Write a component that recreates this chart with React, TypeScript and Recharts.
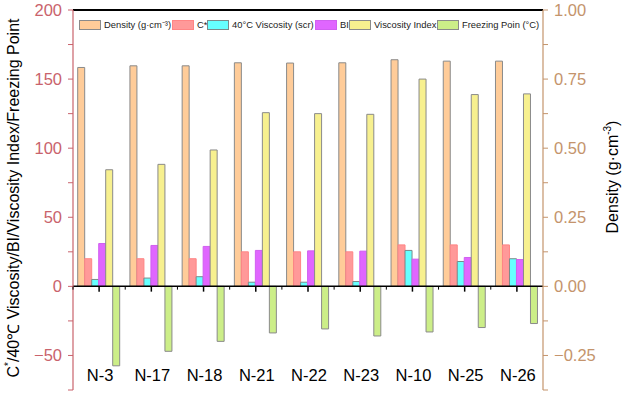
import { BarChart, Bar, XAxis, YAxis, ReferenceLine } from 'recharts'

const categories = ['N-3', 'N-17', 'N-18', 'N-21', 'N-22', 'N-23', 'N-10', 'N-25', 'N-26']
const density = [0.792, 0.798, 0.798, 0.809, 0.808, 0.809, 0.82, 0.815, 0.815]
const cStar = [20, 20, 20, 25, 25, 25, 30, 30, 30]
const viscosity40 = [5, 6, 7, 3, 3, 3.5, 26, 18, 20]
const bi = [31, 29.6, 28.9, 26, 25.7, 25.5, 19.7, 20.9, 19.4]
const viscosityIndex = [84.4, 88.3, 98.7, 125.7, 125, 124.5, 150, 138.8, 139.3]
const freezingPoint = [-57.5, -47, -39.8, -33.7, -30.8, -35.9, -33, -29.8, -26.9]

const leftTicks = [-75, -50, -25, 0, 25, 50, 75, 100, 125, 150, 175, 200]
const rightTicks = [-0.375, -0.25, -0.125, 0, 0.125, 0.25, 0.375, 0.5, 0.625, 0.75, 0.875, 1]

const SERIES = [
  { key: 'density', label: 'Density (g·cm⁻³)', fill: '#FFCC99', stroke: '#8a8a8a', axis: 'right', slot: 93 },
  { key: 'cStar', label: 'C*', fill: '#FF9999', stroke: '#FF8585', axis: 'left', slot: 35 },
  { key: 'viscosity40', label: '40°C Viscosity (scr)', fill: '#66FFFF', stroke: '#7a8a8a', axis: 'left', slot: 108 },
  { key: 'bi', label: 'BI', fill: '#E066FF', stroke: '#D060F0', axis: 'left', slot: 34 },
  { key: 'viscosityIndex', label: 'Viscosity Index', fill: '#F7F08F', stroke: '#8a8a8a', axis: 'left', slot: 88 },
  { key: 'freezingPoint', label: 'Freezing Poin (°C)', fill: '#CCEE88', stroke: '#8a8a8a', axis: 'left', slot: 105 },
]

const data = categories.map((c, i) => ({
  name: c,
  density: density[i],
  cStar: cStar[i],
  viscosity40: viscosity40[i],
  bi: bi[i],
  viscosityIndex: viscosityIndex[i],
  freezingPoint: freezingPoint[i],
}))

const W = 630
const H = 405
const MARGIN = { top: 10, right: 37, bottom: 14, left: 23 }
const PLOT_LEFT = 73
const PLOT_RIGHT = 543
const PLOT_TOP = 11
const PLOT_BOTTOM = H - 15
const ZERO_Y = PLOT_TOP + ((PLOT_BOTTOM - PLOT_TOP) * 200) / 275
const BAND = (PLOT_RIGHT - PLOT_LEFT) / categories.length

const LEFT_COLOR = '#C9636C'
const RIGHT_COLOR = '#C4946C'
const FONT = '"Liberation Sans", Arial, sans-serif'

function fmtMinus(s: string) {
  return s.replace('-', '−')
}

function LeftTick(props: any) {
  const { x, y, payload } = props
  if (payload.value % 50 !== 0) return null
  return (
    <text x={x} y={y} dy={6} textAnchor="end" fontSize={16.5} fill={LEFT_COLOR} fontFamily={FONT}>
      {fmtMinus(String(payload.value))}
    </text>
  )
}

function RightTick(props: any) {
  const { x, y, payload } = props
  if (Math.abs((payload.value * 4) % 1) > 1e-9) return null
  return (
    <text x={x} y={y} dy={6} textAnchor="start" fontSize={16.5} fill={RIGHT_COLOR} fontFamily={FONT}>
      {fmtMinus(payload.value.toFixed(2))}
    </text>
  )
}

function CategoryTick(props: any) {
  const { x, payload } = props
  return (
    <g>
      <line x1={x} x2={x} y1={ZERO_Y} y2={ZERO_Y + 5} stroke="#000" strokeWidth={1.5} />
      <line x1={x - BAND / 2} x2={x - BAND / 2} y1={ZERO_Y} y2={ZERO_Y + 3} stroke="#000" strokeWidth={1} />
      <text x={x + 1} y={381} textAnchor="middle" fontSize={16.5} fill="#000" fontFamily={FONT}>
        {payload.value}
      </text>
    </g>
  )
}

function LeftLabel() {
  return (
    <text
      x={15}
      y={198}
      transform="rotate(-90 15 198)"
      textAnchor="middle"
      dominantBaseline="middle"
      fontSize={16}
      fill="#000"
      fontFamily={FONT}
    >
      C<tspan dy={-6} fontSize={10}>*</tspan>
      <tspan dy={6}>/40℃ Viscosity/BI/Viscosity Index/Freezing Point</tspan>
    </text>
  )
}

function RightLabel() {
  return (
    <text
      x={614}
      y={177}
      transform="rotate(-90 614 177)"
      textAnchor="middle"
      dominantBaseline="middle"
      fontSize={16}
      fill="#000"
      fontFamily={FONT}
    >
      Density (g·cm<tspan dy={-6} fontSize={10}>-3</tspan>
      <tspan dy={6}>)</tspan>
    </text>
  )
}

function LegendBox() {
  return (
    <div
      style={{
        position: 'absolute',
        top: 19,
        left: 79,
        display: 'flex',
        fontFamily: FONT,
        fontSize: 9.4,
        color: '#222',
        whiteSpace: 'nowrap',
        lineHeight: '11px',
      }}
    >
      {SERIES.map((s, i) => (
        <div
          key={s.key}
          style={{ width: s.slot, display: 'flex', alignItems: 'center', position: 'relative', zIndex: i }}
        >
          <span
            style={{
              display: 'inline-block',
              width: 20,
              height: 8,
              background: s.fill,
              border: `1px solid ${s.stroke}`,
              marginRight: 3,
              flexShrink: 0,
            }}
          />
          <span>{s.label}</span>
        </div>
      ))}
    </div>
  )
}

export default function App() {
  return (
    <div style={{ position: 'absolute', left: 0, top: 0, width: W, height: H, background: '#fff' }}>
      <BarChart width={W} height={H} data={data} margin={MARGIN} barCategoryGap="9%" barGap={0}>
        <XAxis
          dataKey="name"
          height={1}
          axisLine={false}
          tickLine={false}
          interval={0}
          tick={<CategoryTick />}
        />
        <YAxis
          yAxisId="left"
          width={50}
          domain={[-75, 200]}
          ticks={leftTicks}
          interval={0}
          tickSize={5}
          tickMargin={6}
          axisLine={{ stroke: LEFT_COLOR, strokeWidth: 1.2 }}
          tickLine={{ stroke: LEFT_COLOR }}
          tick={<LeftTick />}
          label={<LeftLabel />}
        />
        <YAxis
          yAxisId="right"
          orientation="right"
          width={50}
          domain={[-0.375, 1]}
          ticks={rightTicks}
          interval={0}
          tickSize={5}
          tickMargin={6}
          axisLine={{ stroke: RIGHT_COLOR, strokeWidth: 1.2 }}
          tickLine={{ stroke: RIGHT_COLOR }}
          tick={<RightTick />}
          label={<RightLabel />}
        />
        {SERIES.map((s) => (
          <Bar
            key={s.key}
            dataKey={s.key}
            name={s.label}
            yAxisId={s.axis}
            fill={s.fill}
            stroke={s.stroke}
            strokeWidth={1}
            isAnimationActive={false}
          />
        ))}
        <ReferenceLine yAxisId="left" y={0} stroke="#000" strokeWidth={1.5} />
        <ReferenceLine yAxisId="left" y={200} stroke="#000" strokeWidth={2} />
      </BarChart>
      <LegendBox />
    </div>
  )
}
